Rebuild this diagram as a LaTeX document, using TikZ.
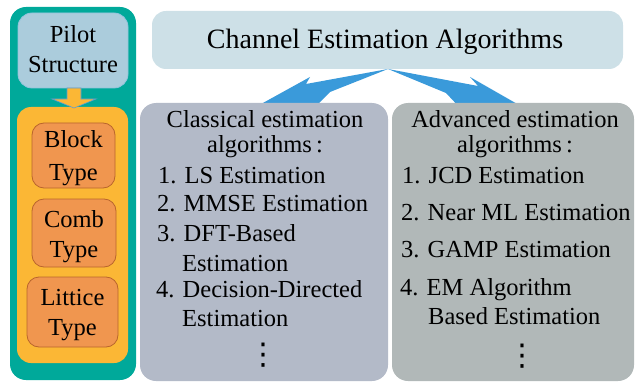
\documentclass[tikz,border=0pt]{standalone}
\usepackage{fontspec}
\setmainfont{Liberation Serif}
\newfontfamily\symfont{DejaVu Sans}
\definecolor{tealc}{HTML}{00A99A}
\definecolor{pilotc}{HTML}{ABCCDC}
\definecolor{pilotb}{HTML}{93C4DC}
\definecolor{yellowc}{HTML}{FBB735}
\definecolor{orangec}{HTML}{F0964F}
\definecolor{orangeb}{HTML}{B9652C}
\definecolor{titlec}{HTML}{CDE0E7}
\definecolor{leftc}{HTML}{B3BAC8}
\definecolor{rightc}{HTML}{B1B8B8}
\definecolor{arrowc}{HTML}{3A9ADA}
\definecolor{arrowb}{HTML}{5B9BD5}
\begin{document}
\begin{tikzpicture}[x=1pt,y=-1pt,
  box/.style={inner sep=0pt, outer sep=0pt},
  txt/.style={font=\fontsize{24.5}{30}\selectfont, inner sep=0pt, anchor=base},
  ltxt/.style={txt, anchor=base west},
  ttl/.style={font=\fontsize{28}{32}\selectfont, inner sep=0pt, anchor=base},
  dot/.style={font=\symfont\fontsize{30}{30}\selectfont, inner sep=0pt, anchor=center}
  ]
\useasboundingbox (0,0) rectangle (636,382);
% left column
\node[box, fill=tealc, rounded corners=16, minimum width=126, minimum height=373] (frame) at (73,193.5) {};
\node[box, fill=pilotc, draw=pilotb, line width=0.8pt, rounded corners=14, minimum width=110, minimum height=75] (pilot) at (73,50.5) {};
\node[box, fill=yellowc, rounded corners=14, minimum width=111, minimum height=256] (types) at (72.5,235) {};
\node[box, fill=orangec, draw=orangeb, line width=0.8pt, rounded corners=12, minimum width=83, minimum height=65] (block) at (73.5,155.5) {};
\node[box, fill=orangec, draw=orangeb, line width=0.8pt, rounded corners=12, minimum width=84, minimum height=68] (comb) at (74,233) {};
\node[box, fill=orangec, draw=orangeb, line width=0.8pt, rounded corners=12, minimum width=91, minimum height=70] (littice) at (72.5,312) {};
\fill[yellowc, draw=arrowb, line width=0.6pt] (67,88) -- (81,88) -- (81,99) -- (96,99) -- (74,108) -- (52,99) -- (67,99) -- cycle;
\node[txt] (p1) at (73,43) {Pilot};
\node[txt] (p2) at (73,73) {Structure};
\node[txt] (b1) at (73.5,148) {Block};
\node[txt] (b2) at (73.5,180) {Type};
\node[txt] (c1) at (74,227) {Comb};
\node[txt] (c2) at (74,257) {Type};
\node[txt] (l1) at (72.5,305) {Littice};
\node[txt] (l2) at (72.5,335) {Type};
% title
\node[box, fill=titlec, rounded corners=14, minimum width=471, minimum height=58] (title) at (387.5,40) {};
\node[ttl] (tt) at (385,49) {Channel Estimation Algorithms};
% arrows
\coordinate (apex) at (388,69);
\fill[arrowc] (apex) -- (306,84) -- (310,77) -- (252,109) -- (312,110) -- (330,92) -- (apex) -- cycle;
\fill[arrowc] (apex) -- (478,86) -- (470,77) -- (526,109) -- (462,110) -- (446,93) -- (apex) -- cycle;
% panels
\node[box, fill=leftc, rounded corners=16, minimum width=248, minimum height=278] (classical) at (264,242) {};
\node[box, fill=rightc, rounded corners=16, minimum width=242, minimum height=278] (advanced) at (513,242) {};
% left text
\node[txt] (ch1) at (265,128) {Classical estimation};
\node[txt] (ch2) at (265,153) {algorithms\,:};
\node[ltxt] (cl1) at (158,183) {1. LS Estimation};
\node[ltxt] (cl2) at (157,211) {2. MMSE Estimation};
\node[ltxt] (cl3) at (157,241) {3. DFT-Based};
\node[ltxt] (cl3b) at (182,271) {Estimation};
\node[ltxt] (cl4) at (156,297) {4. Decision-Directed};
\node[ltxt] (cl4b) at (182,326) {Estimation};
\node[dot] (cd) at (263,355) {⋮};
% right text
\node[txt] (ah1) at (515,128) {Advanced estimation};
\node[txt] (ah2) at (515,153) {algorithms\,:};
\node[ltxt] (al1) at (402,183) {1. JCD Estimation};
\node[ltxt] (al2) at (401,220) {2. Near ML Estimation};
\node[ltxt] (al3) at (401,257) {3. GAMP Estimation};
\node[ltxt] (al4) at (400,295) {4. EM Algorithm};
\node[ltxt] (al4b) at (428,324) {Based Estimation};
\node[dot] (ad) at (522,356) {⋮};
\end{tikzpicture}
\end{document}
